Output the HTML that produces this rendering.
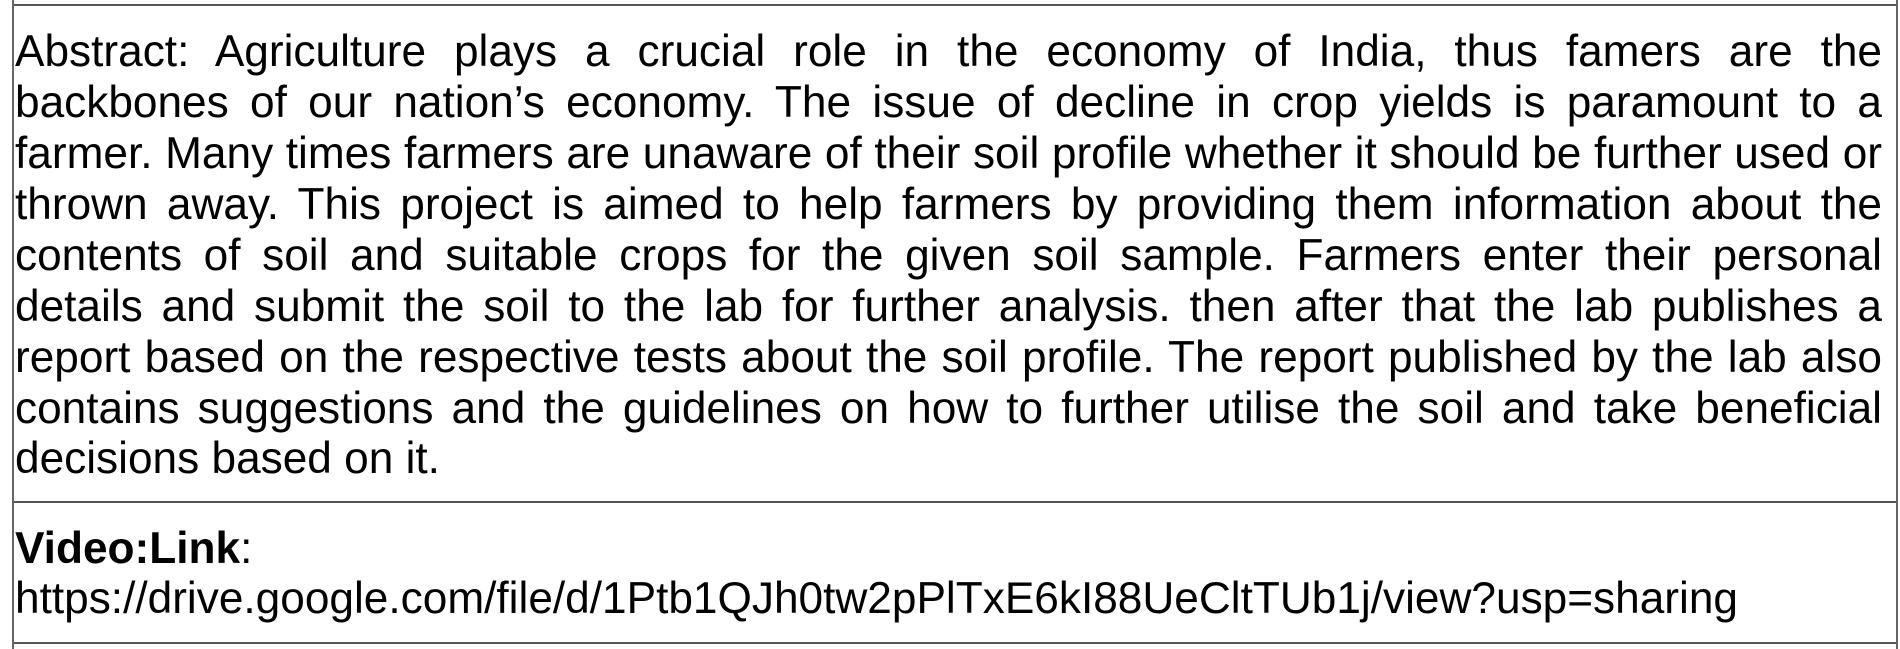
<!DOCTYPE html>
<html><head><meta charset="utf-8"><style>
html,body{margin:0;padding:0;background:#fff;width:1900px;height:649px;overflow:hidden}
body{position:relative;font-family:"Liberation Sans",Arial,sans-serif;color:#000}
.hl{position:absolute;left:13px;width:1885px;height:2px;background:#555}
.vl{position:absolute;top:0;width:2px;height:649px;background:#666}
.ln{position:absolute;left:15px;width:1867px;font-size:44.2px;line-height:50px;height:50px;white-space:nowrap;text-align:justify;text-align-last:justify}
.ln.l{text-align:left;text-align-last:left}
</style></head><body>
<div class="hl" style="top:4px"></div>
<div class="hl" style="top:501px"></div>
<div class="hl" style="top:642px"></div>
<div class="vl" style="left:12px"></div>
<div class="vl" style="left:1896px"></div>
<div>
<div class="ln" style="top:27px">Abstract: Agriculture plays a crucial role in the economy of India, thus famers are the</div>
<div class="ln" style="top:78px">backbones of our nation’s economy. The issue of decline in crop yields is paramount to a</div>
<div class="ln" style="top:129px">farmer. Many times farmers are unaware of their soil profile whether it should be further used or</div>
<div class="ln" style="top:180px">thrown away. This project is aimed to help farmers by providing them information about the</div>
<div class="ln" style="top:231px">contents of soil and suitable crops for the given soil sample. Farmers enter their personal</div>
<div class="ln" style="top:282px">details and submit the soil to the lab for further analysis. then after that the lab publishes a</div>
<div class="ln" style="top:333px">report based on the respective tests about the soil profile. The report published by the lab also</div>
<div class="ln" style="top:384px">contains suggestions and the guidelines on how to further utilise the soil and take beneficial</div>
<div class="ln l" style="top:434px">decisions based on it.</div>
</div>
<div class="ln l" style="top:524px"><b>Video:Link</b>:</div>
<div class="ln l" style="top:574px">https://drive.google.com/file/d/1Ptb1QJh0tw2pPlTxE6kI88UeCltTUb1j/view?usp=sharing</div>
</body></html>
